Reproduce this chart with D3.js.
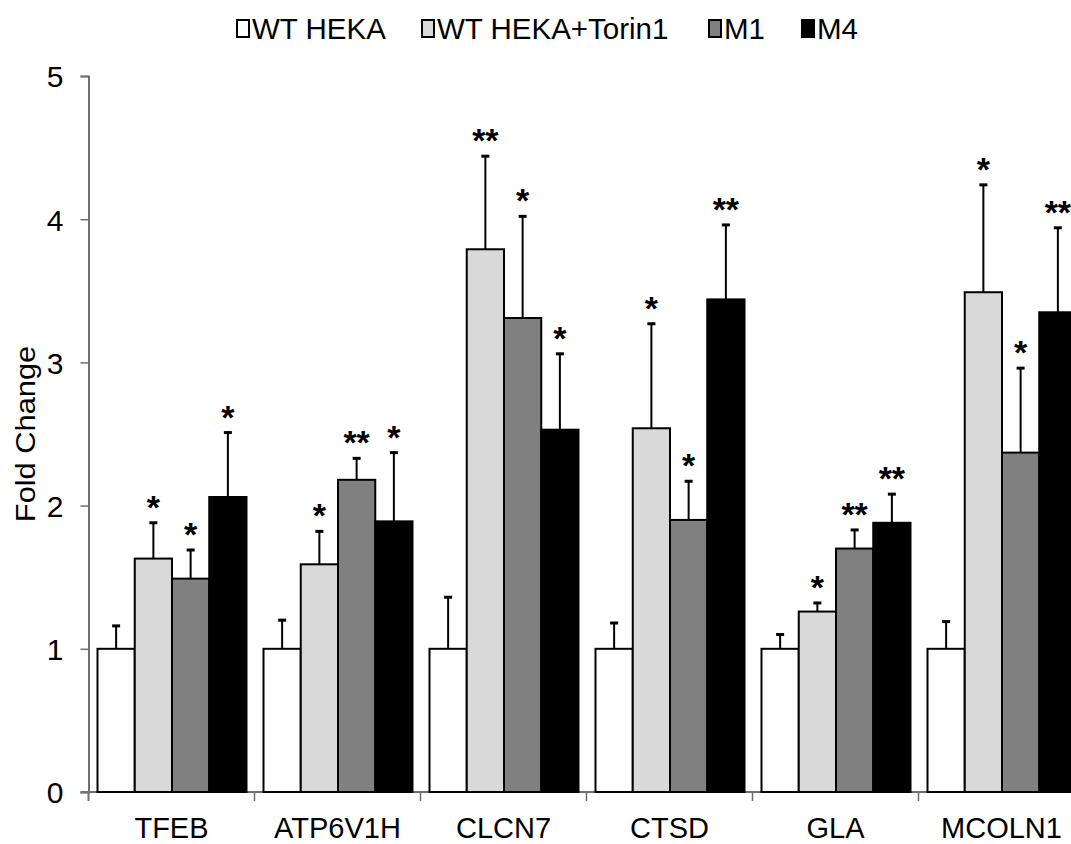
<!DOCTYPE html>
<html>
<head>
<meta charset="utf-8">
<script src="https://cdn.jsdelivr.net/npm/d3@7"></script>
<style>
html,body{margin:0;padding:0;background:#fff;}
svg{display:block;}
text{font-family:"Liberation Sans",Arial,sans-serif;fill:#000;}
</style>
</head>
<body>
<svg id="chart" width="1071" height="844"></svg>
<script>
const categories = ["TFEB","ATP6V1H","CLCN7","CTSD","GLA","MCOLN1"];
const seriesNames = ["WT HEKA","WT HEKA+Torin1","M1","M4"];
const seriesColors = ["#ffffff","#d9d9d9","#808080","#000000"];

const wtValues    = [1.00, 1.00, 1.00, 1.00, 1.00, 1.00];
const wtErr       = [0.16, 0.20, 0.36, 0.18, 0.10, 0.19];
const torinValues = [1.63, 1.59, 3.79, 2.54, 1.26, 3.49];
const torinErr    = [0.25, 0.23, 0.65, 0.73, 0.06, 0.75];
const m1Values    = [1.49, 2.18, 3.31, 1.90, 1.70, 2.37];
const m1Err       = [0.20, 0.15, 0.71, 0.27, 0.13, 0.59];
const m4Values    = [2.06, 1.89, 2.53, 3.44, 1.88, 3.35];
const m4Err       = [0.45, 0.48, 0.53, 0.52, 0.20, 0.59];

const wtStars    = ["","","","","",""];
const torinStars = ["*","*","**","*","*","*"];
const m1Stars    = ["*","**","*","*","**","*"];
const m4Stars    = ["*","*","*","**","**","**"];

const yTicks = [0,1,2,3,4,5];

const valueSets = [wtValues, torinValues, m1Values, m4Values];
const errSets = [wtErr, torinErr, m1Err, m4Err];
const starSets = [wtStars, torinStars, m1Stars, m4Stars];

const rows = [];
categories.forEach((c, i) => {
  seriesNames.forEach((s, j) => {
    rows.push({cat: c, series: s, idx: j, value: valueSets[j][i], err: errSets[j][i], star: starSets[j][i]});
  });
});

const svg = d3.select("#chart");
const axisX = 88.5;
const bandW = 166;
const x0 = d3.scaleBand().domain(categories).range([axisX, axisX + bandW * categories.length]).paddingInner(0).paddingOuter(0);
const x1 = d3.scaleBand().domain(seriesNames).range([9, 158]).padding(0);
const y = d3.scaleLinear().domain([0, 5]).range([792, 76]);

// Y axis
const yAxis = d3.axisLeft(y).tickValues(yTicks).tickSize(8).tickPadding(0).tickFormat(d3.format("d"));
const gy = svg.append("g").attr("transform", `translate(${axisX},0)`).call(yAxis);
gy.attr("font-size", null).attr("font-family", null);
gy.select(".domain").attr("stroke", "#6e6e6e").attr("stroke-width", 2);
gy.selectAll(".tick line").attr("stroke", "#6e6e6e").attr("stroke-width", 1.5);
gy.selectAll(".tick text").attr("x", -25).attr("dy", "0.36em")
  .style("font-size", "30px").style("font-family", "'Liberation Sans',Arial,sans-serif").attr("fill", "#000");

// X axis line and ticks at band boundaries
const bounds = categories.slice(1).map(c => x0(c));
svg.append("line").attr("x1", axisX - 8).attr("x2", 1071).attr("y1", y(0)).attr("y2", y(0))
  .attr("stroke", "#6e6e6e").attr("stroke-width", 2);
svg.selectAll(".xtick").data(bounds).enter().append("line").attr("class", "xtick")
  .attr("x1", d => d).attr("x2", d => d).attr("y1", y(0)).attr("y2", y(0) + 9)
  .attr("stroke", "#6e6e6e").attr("stroke-width", 1.5);
svg.append("line").attr("x1", axisX).attr("x2", axisX).attr("y1", y(0)).attr("y2", y(0) + 9)
  .attr("stroke", "#6e6e6e").attr("stroke-width", 2);

// Category labels
svg.selectAll(".cat").data(categories).enter().append("text").attr("class", "cat")
  .attr("x", d => x0(d) + bandW / 2).attr("y", 838)
  .attr("text-anchor", "middle").style("font-size", "29px").text(d => d);

// Bars
const groups = svg.selectAll(".grp").data(categories).enter().append("g")
  .attr("transform", d => `translate(${x0(d)},0)`);

const barW = x1.bandwidth();
const barData = c => rows.filter(r => r.cat === c);

// error bars (behind bars)
groups.selectAll(".err").data(barData).enter().append("line")
  .attr("x1", d => x1(d.series) + barW / 2).attr("x2", d => x1(d.series) + barW / 2)
  .attr("y1", d => y(d.value)).attr("y2", d => y(d.value + d.err))
  .attr("stroke", "#000").attr("stroke-width", 2);
groups.selectAll(".cap").data(barData).enter().append("line")
  .attr("x1", d => x1(d.series) + barW / 2 - 4).attr("x2", d => x1(d.series) + barW / 2 + 4)
  .attr("y1", d => y(d.value + d.err)).attr("y2", d => y(d.value + d.err))
  .attr("stroke", "#000").attr("stroke-width", 3);

groups.selectAll(".bar").data(barData).enter().append("rect")
  .attr("x", d => x1(d.series)).attr("width", barW)
  .attr("y", d => y(d.value)).attr("height", d => y(0) - y(d.value))
  .attr("fill", d => seriesColors[d.idx]).attr("stroke", "#000").attr("stroke-width", 2);

// significance stars
groups.selectAll(".star").data(d => barData(d).filter(r => r.star)).enter().append("text")
  .attr("x", d => x1(d.series) + barW / 2).attr("y", d => y(d.value + d.err) - 4)
  .attr("text-anchor", "middle").style("font-size", "34px").style("font-weight", "bold")
  .text(d => d.star);

// Y axis title
svg.append("text").attr("transform", "translate(35,434) rotate(-90) scale(1.1,1)")
  .attr("text-anchor", "middle").style("font-size", "28px").text("Fold Change");

// Legend
const legendX = [236, 421, 708, 801];
const leg = svg.selectAll(".leg").data(seriesNames).enter().append("g")
  .attr("transform", (d, i) => `translate(${legendX[i]},0)`);
leg.append("rect").attr("x", 1).attr("y", 20).attr("width", 12).attr("height", 17)
  .attr("fill", (d, i) => seriesColors[i]).attr("stroke", "#000").attr("stroke-width", 2);
leg.append("text").attr("x", 16).attr("y", 39)
  .style("font-size", "29.5px").text(d => d);
</script>
</body>
</html>
